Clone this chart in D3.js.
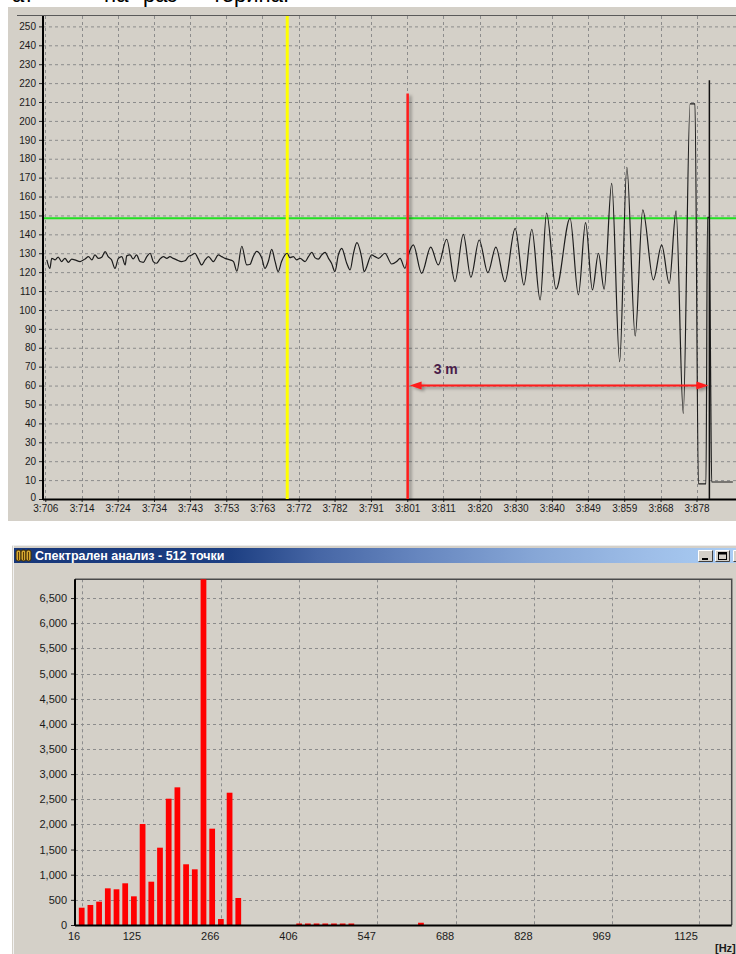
<!DOCTYPE html>
<html>
<head>
<meta charset="utf-8">
<script src="https://cdn.jsdelivr.net/npm/d3@7"></script>
<style>
  html, body { margin: 0; padding: 0; background: #ffffff; }
  svg { display: block; }
  text { font-family: "Liberation Sans", Arial, sans-serif; }
</style>
</head>
<body>
<svg id="page" width="736" height="954"></svg>
<script>
// ---------- Waveform (top panel) ----------
const timeTicks = [3706.0, 3715.6, 3725.1, 3734.7, 3744.2, 3753.8, 3763.3, 3772.9, 3782.4, 3792.0,
                   3801.6, 3811.1, 3820.7, 3830.2, 3839.8, 3849.3, 3858.9, 3868.5, 3878.0];
const timeTickLabels = ["3:706", "3:714", "3:724", "3:734", "3:743", "3:753", "3:763", "3:772", "3:782", "3:791",
                        "3:801", "3:811", "3:820", "3:830", "3:840", "3:849", "3:859", "3:868", "3:878"];
const levelTicks = [0, 10, 20, 30, 40, 50, 60, 70, 80, 90, 100, 110, 120, 130, 140, 150, 160, 170, 180, 190, 200, 210, 220, 230, 240, 250];

// signal samples: [time, level]
const signal = [
  [3706.4,126.5],[3707.2,122],[3707.7,127.3],[3708.6,126.5],[3709.4,128.0],[3710.3,125.6],[3711.2,127.3],
  [3712.1,125.2],[3713.0,126.9],[3713.8,126.5],[3715.2,125.6],[3716.5,127.0],[3717.4,128.2],[3718.3,126.5],
  [3719.1,129.1],[3720.0,127.3],[3720.9,127.9],[3721.8,130.9],[3722.6,128.2],[3723.5,126.5],[3724.4,122],
  [3725.3,127.3],[3726.2,128.2],[3727.1,123.8],[3727.5,128.6],[3728.4,129.1],[3729.2,127],[3730.1,129.1],
  [3731.0,125.6],[3731.9,125.2],[3732.8,128.2],[3733.7,130],[3734.5,125.6],[3735.4,124.7],[3736.3,127],
  [3737.2,128.2],[3738.1,127.3],[3738.9,128.2],[3739.8,127.3],[3740.7,126.5],[3742.0,125.6],[3742.9,126],
  [3743.8,128.2],[3744.7,129.1],[3745.5,130],[3746.4,127],[3747.3,123.8],[3748.2,126.5],[3749.1,128.2],
  [3750.4,125.6],[3751.7,129.1],[3752.6,128.2],[3753.5,127.3],[3754.8,126.5],[3755.7,125.6],[3756.6,120.5],
  [3757.9,133.7],[3759.2,123.8],[3760.1,124.2],[3760.9,128.2],[3761.8,131],[3763.2,127.3],[3764.0,122],
  [3764.9,125.6],[3765.8,132],[3766.7,125.6],[3767.5,120.3],[3768.4,125.6],[3769.3,129.1],[3769.9,130],
  [3770.6,127.7],[3771.5,128.2],[3772.4,126.5],[3773.3,127.3],[3774.6,125.6],[3775.5,128.2],[3776.4,130.5],
  [3777.2,127.7],[3778.1,126.9],[3779.0,129.1],[3779.9,130.5],[3780.8,127.3],[3781.6,124.7],[3782.5,120.3],
  [3783.4,129.1],[3784.3,132.6],[3785.6,124.7],[3786.5,121.2],[3787.4,130],[3788.3,135.6],[3789.6,127.3],
  [3790.2,120.3],[3792.2,129.1],[3793.1,128.2],[3794.0,127.3],[3795.7,130],[3797.5,124.3],[3798.8,125.6],
  [3799.7,127.3],[3801.0,122],[3801.9,129.1],[3803.2,134.4],[3805.4,119.4],[3807.8,133.2],[3809.8,123.8],
  [3812.0,137.4],[3814.2,115],[3816.4,140],[3818.4,117.3],[3820.6,137],[3822.9,119.7],[3825.0,133.2],
  [3827.4,115],[3830.1,143.2],[3832.4,113.2],[3834.5,142.7],[3836.7,105.3],[3838.4,151.3],[3840.9,111],
  [3844.6,148.5],[3846.8,108],[3848.7,146.2],[3850.5,110.6],[3852.1,130],[3853.6,111],[3855.6,167],
  [3857.7,72.6],[3859.6,175.5],[3861.8,86.2],[3863.8,152.9],[3866.6,115.9],[3868.8,134.4],[3870.8,114],
  [3872.6,152.4],[3874.5,45.3],[3876.3,209],[3877.6,209],[3878.5,8],[3880.5,8],[3880.9,149],[3881.4,149],
  [3881.7,72],[3882.0,9],[3887.6,9]
];

const thresholdLevel = 148.5;
const yellowCursorTime = 3769.9;
const redCursor = { time: 3801.7, top: 214.5 };
const blackCursor = { time: 3881.4, top: 221.5 };
const distanceLevel = 60;
const distanceLabel = "3 m";

// ---------- Spectrum (bottom window) ----------
const binWidthHz = 15.625;
const spectrumBins = d3.range(1, 41);
const spectrumValues = [344, 398, 464, 729, 710, 829, 570, 2008, 861, 1537,
                        2511, 2737, 1207, 1107, 6873, 1915, 119, 2630, 537, 0,
                        0, 0, 0, 0, 0, 30, 30, 30, 30, 30,
                        30, 30, 0, 0, 0, 0, 0, 0, 0, 45];
const freqTicks = [15.625, 125, 265.625, 406.25, 546.875, 687.5, 828.125, 968.75, 1125];
const freqTickLabels = ["16", "125", "266", "406", "547", "688", "828", "969", "1125"];
const ampTicks = d3.range(0, 7000, 500);
const windowTitle = "Спектрален анализ - 512 точки";

const svg = d3.select("#page");

// drop shadow used by the red markers
const defs = svg.append("defs");
const shadow = defs.append("filter").attr("id", "shade").attr("x", "-50%").attr("y", "-50%").attr("width", "200%").attr("height", "200%");
shadow.append("feDropShadow").attr("dx", 2.5).attr("dy", 2).attr("stdDeviation", 1.4)
  .attr("flood-color", "#000").attr("flood-opacity", 0.35);

// ---- clipped caption line above the panel ----
const caption = svg.append("g").attr("font-family", "'Liberation Serif', 'Times New Roman', serif")
  .attr("font-size", 22).attr("fill", "#000");
caption.append("text").attr("x", 12).attr("y", 2).text("ат");
caption.append("text").attr("x", 104).attr("y", 2).text("на");
caption.append("text").attr("x", 143).attr("y", 2).text("раз");
caption.append("text").attr("x", 212).attr("y", 2).text("терина.");

// ================= TOP PANEL =================
const wave = { left: 43, right: 736, top: 16, bottom: 499 };
svg.append("rect").attr("x", 8).attr("y", 7).attr("width", 728).attr("height", 514).attr("fill", "#d4d0c8");

const xT = d3.scaleLinear().domain([3705.39, 3888.43]).range([wave.left, wave.right]);
const yT = d3.scaleLinear().domain([0, 255.5]).range([wave.bottom, wave.top]);

const gT = svg.append("g");

// grid
gT.append("g").selectAll("line").data(levelTicks.filter(d => d > 0)).join("line")
  .attr("x1", wave.left).attr("x2", wave.right)
  .attr("y1", d => yT(d) + 0.5).attr("y2", d => yT(d) + 0.5)
  .attr("stroke", "#8c8c8c").attr("stroke-dasharray", "3,3");
gT.append("g").selectAll("line").data(timeTicks).join("line")
  .attr("x1", d => Math.round(xT(d)) + 0.5).attr("x2", d => Math.round(xT(d)) + 0.5)
  .attr("y1", wave.top).attr("y2", wave.bottom)
  .attr("stroke", "#8c8c8c").attr("stroke-dasharray", "3,3");

// top frame line
gT.append("line").attr("x1", 17).attr("x2", wave.right).attr("y1", wave.top - 0.5).attr("y2", wave.top - 0.5)
  .attr("stroke", "#5a5a5a").attr("stroke-width", 1);

// axes
const yAxisT = d3.axisLeft(yT).tickValues(levelTicks).tickSize(4).tickPadding(3);
const yAxG = gT.append("g").attr("transform", `translate(${wave.left},0)`).call(yAxisT);
const xAxisT = d3.axisBottom(xT).tickValues(timeTicks).tickSize(3).tickPadding(3)
  .tickFormat((d, i) => timeTickLabels[i]);
const xAxG = gT.append("g").attr("transform", `translate(0,${wave.bottom})`).call(xAxisT);
[yAxG, xAxG].forEach(g => {
  g.select(".domain").remove();
  g.selectAll("text").attr("font-size", 10).attr("fill", "#1a1a1a")
    .attr("font-family", "'Liberation Sans', Arial, sans-serif");
  g.selectAll(".tick line").attr("stroke", "#222");
});
// lift the zero label a little so it clears the time labels
yAxG.selectAll(".tick text").filter(d => d === 0).attr("dy", "0.1em");
gT.append("line").attr("x1", wave.left).attr("x2", wave.left).attr("y1", wave.top).attr("y2", wave.bottom + 1)
  .attr("stroke", "#000").attr("stroke-width", 2);
gT.append("line").attr("x1", wave.left).attr("x2", wave.right).attr("y1", wave.bottom + 0.5).attr("y2", wave.bottom + 0.5)
  .attr("stroke", "#000").attr("stroke-width", 2);

// threshold level
gT.append("line").attr("x1", wave.left + 1).attr("x2", wave.right)
  .attr("y1", yT(thresholdLevel)).attr("y2", yT(thresholdLevel))
  .attr("stroke", "#22e022").attr("stroke-width", 2);

// yellow cursor
gT.append("line").attr("x1", xT(yellowCursorTime)).attr("x2", xT(yellowCursorTime))
  .attr("y1", wave.top).attr("y2", wave.bottom)
  .attr("stroke", "#ffff00").attr("stroke-width", 3);

// signal trace
const line = d3.line().x(d => xT(d[0])).y(d => yT(d[1])).curve(d3.curveMonotoneX);
gT.append("path").datum(signal).attr("d", line)
  .attr("fill", "none").attr("stroke", "#1c1c1c").attr("stroke-width", 1.2).attr("stroke-linejoin", "round");

// black cursor at the end of the record
gT.append("line").attr("x1", xT(blackCursor.time)).attr("x2", xT(blackCursor.time))
  .attr("y1", yT(blackCursor.top)).attr("y2", wave.bottom)
  .attr("stroke", "#111").attr("stroke-width", 1.5);

// red cursor and distance arrow
const red = gT.append("g").attr("filter", "url(#shade)");
red.append("line").attr("x1", xT(redCursor.time)).attr("x2", xT(redCursor.time))
  .attr("y1", yT(redCursor.top)).attr("y2", wave.bottom)
  .attr("stroke", "#ff1a1a").attr("stroke-width", 2.5);
const ay = yT(distanceLevel);
const ax0 = xT(redCursor.time) + 2, ax1 = xT(blackCursor.time) - 1;
red.append("line").attr("x1", ax0 + 8).attr("x2", ax1 - 8).attr("y1", ay).attr("y2", ay)
  .attr("stroke", "#ff1a1a").attr("stroke-width", 2);
red.append("path").attr("d", `M${ax0},${ay} L${ax0 + 12},${ay - 4} L${ax0 + 12},${ay + 4} Z`).attr("fill", "#ff1a1a");
red.append("path").attr("d", `M${ax1},${ay} L${ax1 - 12},${ay - 4} L${ax1 - 12},${ay + 4} Z`).attr("fill", "#ff1a1a");
gT.append("text").attr("x", xT(redCursor.time) + 26).attr("y", ay - 12)
  .attr("font-size", 14).attr("font-weight", "bold").attr("fill", "#4a1e4a").text(distanceLabel);

// ================= SPECTRUM WINDOW =================
svg.append("rect").attr("x", 12).attr("y", 545).attr("width", 724).attr("height", 409).attr("fill", "#d4d0c8");
svg.append("line").attr("x1", 12).attr("x2", 736).attr("y1", 545.5).attr("y2", 545.5).attr("stroke", "#ececec");
svg.append("line").attr("x1", 13.5).attr("x2", 13.5).attr("y1", 545).attr("y2", 954).attr("stroke", "#f2f2f2");

// title bar
const grad = defs.append("linearGradient").attr("id", "titleGrad").attr("x1", "0").attr("x2", "1").attr("y1", "0").attr("y2", "0");
[[0, "#17377a"], [0.3, "#1d3f82"], [0.42, "#4666a5"], [0.56, "#6686bf"], [0.72, "#86a6d6"], [0.88, "#9ebee8"], [1, "#aacdf4"]]
  .forEach(([o, c]) => grad.append("stop").attr("offset", o).attr("stop-color", c));
svg.append("rect").attr("x", 14).attr("y", 548).attr("width", 722).attr("height", 15).attr("fill", "url(#titleGrad)");

// window icon
const icon = svg.append("g").attr("transform", "translate(16,550)");
[0, 5, 10].forEach(dx => {
  icon.append("rect").attr("x", dx).attr("y", 0).attr("width", 5).attr("height", 11).attr("rx", 2)
    .attr("fill", "#d6a830").attr("stroke", "#3a2a08").attr("stroke-width", 1);
  icon.append("line").attr("x1", dx + 2.5).attr("x2", dx + 2.5).attr("y1", 2).attr("y2", 10)
    .attr("stroke", "#5a3a08").attr("stroke-width", 1);
});
svg.append("text").attr("x", 35).attr("y", 560).attr("fill", "#ffffff").attr("font-weight", "bold")
  .attr("font-size", 12.5).attr("font-family", "'DejaVu Sans', Verdana, sans-serif").text(windowTitle);

// caption buttons
function captionButton(x, kind) {
  const b = svg.append("g").attr("transform", `translate(${x},550)`);
  b.append("rect").attr("width", 15).attr("height", 12).attr("fill", "#d4d0c8");
  b.append("path").attr("d", "M0.5,11.5 V0.5 H14.5").attr("fill", "none").attr("stroke", "#ffffff");
  b.append("path").attr("d", "M0.5,11.5 H14.5 V0.5").attr("fill", "none").attr("stroke", "#404040");
  if (kind === "min") b.append("rect").attr("x", 4).attr("y", 8).attr("width", 6).attr("height", 2).attr("fill", "#000");
  if (kind === "max") {
    b.append("rect").attr("x", 3.5).attr("y", 2.5).attr("width", 8).attr("height", 7)
      .attr("fill", "none").attr("stroke", "#000").attr("stroke-width", 1);
    b.append("rect").attr("x", 3.5).attr("y", 2.5).attr("width", 8).attr("height", 2).attr("fill", "#000");
  }
}
captionButton(698, "min");
captionButton(715, "max");
captionButton(733, "close");

// plot
const sp = { left: 75, right: 731.7, top: 579.3, bottom: 925 };
const xS = d3.scaleLinear().domain([3.59, 1183.2]).range([sp.left, sp.right]);
const yS = d3.scaleLinear().domain([0, 6873]).range([sp.bottom, sp.top]);
const gS = svg.append("g");

gS.append("g").selectAll("line").data(ampTicks.filter(d => d > 0)).join("line")
  .attr("x1", sp.left).attr("x2", sp.right)
  .attr("y1", d => Math.round(yS(d)) + 0.5).attr("y2", d => Math.round(yS(d)) + 0.5)
  .attr("stroke", "#8c8c8c").attr("stroke-dasharray", "3,3");
gS.append("g").selectAll("line").data(freqTicks).join("line")
  .attr("x1", d => Math.round(xS(d)) + 0.5).attr("x2", d => Math.round(xS(d)) + 0.5)
  .attr("y1", sp.top).attr("y2", sp.bottom)
  .attr("stroke", "#8c8c8c").attr("stroke-dasharray", "3,3");

// frame
gS.append("path").attr("d", `M${sp.left},${sp.top} H${sp.right} V${sp.bottom}`)
  .attr("fill", "none").attr("stroke", "#4a4a4a").attr("stroke-width", 1.5);

// bars
const barW = (xS(2 * binWidthHz) - xS(binWidthHz)) * 0.66;
gS.append("g").selectAll("rect").data(spectrumBins.map((k, i) => ({ f: k * binWidthHz, v: spectrumValues[i] })).filter(d => d.v > 0))
  .join("rect")
  .attr("x", d => xS(d.f) - barW / 2).attr("width", barW)
  .attr("y", d => yS(d.v)).attr("height", d => yS(0) - yS(d.v))
  .attr("fill", "#ff0000");

// axes
const yAxisS = d3.axisLeft(yS).tickValues(ampTicks).tickSize(4).tickPadding(4).tickFormat(d3.format(","));
const yAsG = gS.append("g").attr("transform", `translate(${sp.left},0)`).call(yAxisS);
const xAxisS = d3.axisBottom(xS).tickValues(freqTicks).tickSize(0).tickPadding(7)
  .tickFormat((d, i) => freqTickLabels[i]);
const xAsG = gS.append("g").attr("transform", `translate(0,${sp.bottom})`).call(xAxisS);
[yAsG, xAsG].forEach(g => {
  g.select(".domain").remove();
  g.selectAll("text").attr("font-size", 11).attr("fill", "#1a1a1a")
    .attr("font-family", "'Liberation Sans', Arial, sans-serif");
  g.selectAll(".tick line").attr("stroke", "#222");
});
xAsG.selectAll("text").attr("text-anchor", "end").attr("dx", -2);
gS.append("line").attr("x1", sp.left).attr("x2", sp.left).attr("y1", sp.top).attr("y2", sp.bottom + 1)
  .attr("stroke", "#000").attr("stroke-width", 2);
gS.append("line").attr("x1", sp.left).attr("x2", sp.right).attr("y1", sp.bottom + 0.5).attr("y2", sp.bottom + 0.5)
  .attr("stroke", "#000").attr("stroke-width", 2);
gS.append("text").attr("x", 715).attr("y", 951.5).attr("font-size", 11).attr("font-weight", "bold")
  .attr("fill", "#1a1a1a").text("[Hz]");
</script>
</body>
</html>
